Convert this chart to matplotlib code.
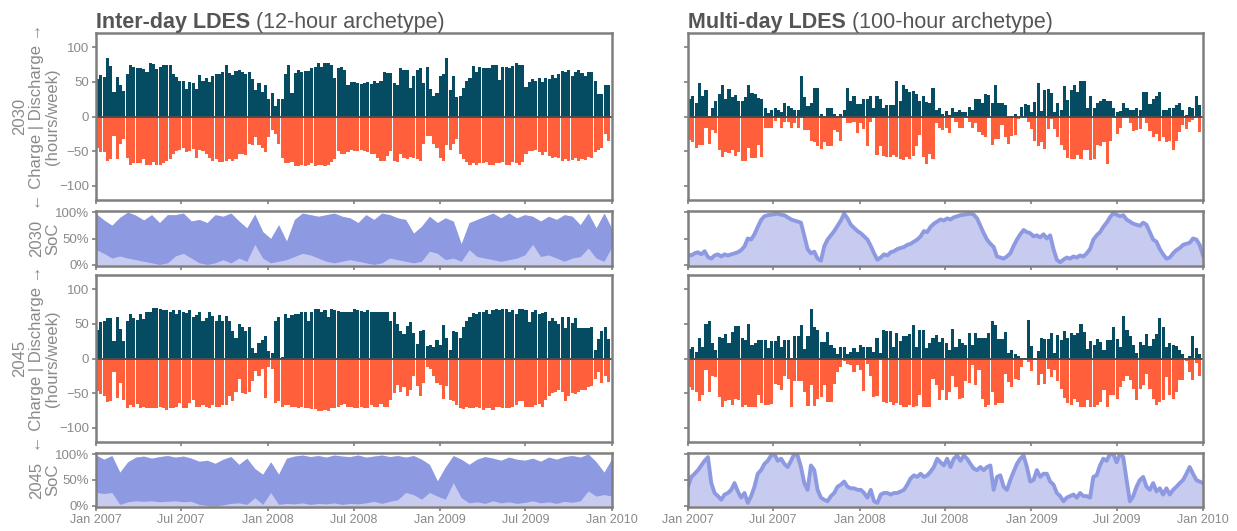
import matplotlib.pyplot as plt
import pandas as pd

plt.rcParams['font.family'] = ['Liberation Sans', 'DejaVu Sans']

# weekly hours (discharge +, charge -), Jan 2007 - Dec 2009
inter_2030_dis = [55, 60, 57, 85, 73, 35, 57, 46, 37, 61, 75, 72, 70,
                  70, 69, 64, 78, 76, 69, 72, 74, 75, 75, 62, 57, 52,
                  52, 40, 50, 48, 40, 60, 52, 56, 50, 58, 62, 62, 65,
                  75, 63, 60, 66, 68, 65, 61, 65, 55, 38, 48, 36, 46,
                  25, 34, 15, 25, 26, 62, 75, 34, 63, 68, 65, 66, 66,
                  70, 72, 77, 72, 78, 78, 75, 56, 70, 72, 67, 46, 50,
                  50, 49, 47, 49, 50, 47, 52, 48, 51, 64, 63, 63, 48,
                  45, 71, 67, 67, 42, 59, 67, 70, 48, 72, 40, 29, 34,
                  58, 62, 85, 38, 59, 28, 30, 42, 52, 56, 73, 65, 72,
                  70, 71, 70, 75, 75, 53, 72, 72, 71, 73, 78, 74, 74,
                  43, 50, 55, 52, 56, 50, 56, 54, 60, 56, 62, 66, 65,
                  67, 58, 65, 68, 63, 58, 65, 65, 52, 32, 32, 45, 45]
inter_2030_chg = [-45, -52, -52, -64, -62, -28, -62, -40, -33, -60, -70, -68, -68,
                  -67, -62, -70, -70, -66, -70, -70, -67, -65, -62, -55, -50, -48,
                  -45, -52, -50, -47, -60, -48, -50, -55, -60, -65, -62, -66, -66,
                  -65, -62, -65, -62, -55, -55, -56, -40, -42, -30, -42, -46, -52,
                  -30, -20, -25, -40, -60, -68, -68, -66, -72, -72, -70, -72, -70,
                  -68, -72, -70, -70, -72, -70, -66, -62, -50, -54, -55, -52, -48,
                  -50, -50, -48, -50, -52, -55, -55, -60, -65, -65, -57, -50, -65,
                  -66, -55, -60, -62, -58, -60, -62, -65, -40, -28, -28, -40, -45,
                  -60, -65, -42, -48, -40, -32, -55, -62, -66, -70, -68, -70, -68,
                  -68, -66, -70, -70, -68, -68, -66, -70, -70, -66, -68, -70, -66,
                  -55, -50, -50, -48, -52, -56, -52, -57, -60, -58, -60, -65, -62,
                  -64, -63, -60, -65, -62, -63, -58, -60, -52, -48, -45, -25, -36]
inter_2045_dis = [42, 53, 54, 58, 58, 26, 60, 43, 25, 55, 65, 58, 56,
                  64, 57, 67, 67, 73, 73, 72, 70, 70, 68, 71, 64, 70,
                  68, 66, 70, 60, 63, 68, 55, 58, 67, 62, 55, 63, 55,
                  62, 55, 40, 30, 50, 45, 40, 45, 15, 8, 22, 27, 33,
                  11, 8, 55, 60, 2, 64, 58, 63, 65, 65, 67, 68, 55,
                  68, 72, 72, 68, 70, 60, 72, 70, 69, 67, 67, 67, 67,
                  72, 70, 69, 68, 70, 67, 68, 67, 68, 67, 67, 55, 68,
                  50, 40, 35, 47, 53, 37, 21, 40, 42, 18, 20, 16, 27,
                  20, 49, 30, 12, 40, 38, 30, 45, 55, 60, 66, 65, 68,
                  67, 70, 64, 70, 72, 70, 72, 72, 68, 71, 65, 72, 72,
                  70, 53, 68, 71, 64, 66, 67, 55, 58, 54, 50, 60, 44,
                  60, 52, 58, 44, 44, 44, 44, 45, 12, 28, 40, 45, 28]
inter_2045_chg = [-47, -52, -55, -63, -62, -20, -57, -35, -60, -72, -68, -70, -66,
                  -72, -70, -72, -72, -72, -72, -70, -72, -75, -72, -72, -70, -65,
                  -72, -72, -65, -60, -70, -70, -68, -70, -72, -68, -70, -70, -68,
                  -68, -55, -62, -48, -30, -50, -52, -48, -33, -18, -25, -15, -57,
                  -12, -15, -65, -62, -70, -68, -68, -70, -70, -72, -70, -72, -72,
                  -73, -73, -76, -76, -74, -76, -72, -72, -70, -68, -66, -70, -70,
                  -72, -72, -70, -72, -72, -68, -70, -70, -66, -70, -70, -60, -50,
                  -38, -48, -42, -55, -46, -25, -40, -55, -35, -12, -15, -25, -35,
                  -38, -58, -40, -60, -62, -68, -72, -73, -70, -72, -72, -70, -72,
                  -74, -72, -72, -75, -70, -70, -72, -72, -72, -70, -68, -62, -62,
                  -70, -70, -70, -68, -66, -70, -60, -55, -50, -48, -45, -48, -62,
                  -55, -50, -52, -48, -45, -45, -42, -40, -30, -20, -35, -25, -34]
multi_2030_dis = [26, 29, 20, 49, 29, 39, 0, 13, 23, 32, 45, 26, 40, 28, 31, 23, 23, 28, 45, 34,
                  32, 27, 26, 13, 5, 9, 12, 10, 6, 20, 15, 13, 10, 10, 59, 28, 15, 20, 42, 42,
                  3, 0, 12, 12, 3, 1, 3, 9, 42, 22, 29, 18, 18, 26, 26, 29, 12, 30, 25, 12,
                  17, 17, 17, 52, 23, 45, 40, 35, 37, 33, 23, 30, 21, 20, 41, 9, 13, 4,
                  8, 2, 12, 6, 10, 7, 7, 14, 10, 26, 25, 19, 32, 31, 19, 45, 20, 20, 16, 0,
                  1, 3, 0, 14, 18, 16, 6, 21, 49, 8, 38, 40, 34, 7, 19, 10, 44, 24, 39, 45,
                  35, 52, 52, 12, 30, 12, 20, 22, 26, 23, 23, 13, 7, 8, 20, 13, 10, 10, 13, 10,
                  35, 36, 18, 26, 30, 35, 10, 10, 12, 12, 17, 20, 10, 2, 14, 12, 30, 17]
multi_2030_chg = [-34, -37, -46, -42, -42, -16, -40, -20, -24, -48, -59, -52, -53, -48, -57, -52, -64, -64, -46, -60,
                  -60, -42, -58, -16, -16, -16, -7, 0, -16, -8, -8, -16, -9, -16, 0, -20, -20, -35, -37, -43,
                  -47, -37, -43, -43, -20, -22, -35, -1, -9, -9, -8, -24, -9, -18, -43, -8, 0, -56, -43, -57,
                  -59, -58, -56, -59, -61, -63, -59, -62, -57, -43, -27, -58, -69, -54, -62, -9, -16, -20,
                  -16, -24, 0, -8, -16, -16, 0, -8, -16, -10, -23, -27, -30, 0, -41, -33, -33, -13, -30, -40,
                  -28, -27, -4, -1, 0, -8, -18, -36, -43, -37, -47, -18, -4, -18, -29, -41, -48, -60, -61, -61,
                  -56, -61, -48, -49, -63, -61, -41, -43, -37, -69, -35, 0, -25, -17, -1, 0, -9, -21, -20, -18,
                  -1, -10, -21, -30, -25, -35, -29, -37, -35, -48, -35, -22, -13, -18, -8, -5, 0, -23]
multi_2045_dis = [14, 16, 10, 30, 17, 50, 55, 23, 12, 31, 30, 36, 23, 38, 47, 47, 30, 27, 50, 20,
                  22, 27, 27, 27, 15, 26, 26, 33, 16, 27, 27, 1, 32, 32, 49, 14, 32, 72, 45, 42,
                  24, 24, 38, 20, 15, 7, 17, 16, 7, 10, 15, 9, 19, 17, 17, 17, 9, 29, 8, 42,
                  40, 40, 17, 37, 26, 33, 32, 36, 49, 17, 42, 42, 15, 22, 30, 34, 24, 30,
                  22, 13, 43, 16, 28, 23, 20, 37, 20, 37, 29, 29, 29, 37, 55, 49, 28, 28, 38, 8,
                  12, 7, 3, 1, 1, 56, 18, 1, 11, 29, 28, 28, 37, 8, 34, 27, 40, 30, 37, 34,
                  37, 50, 39, 14, 25, 20, 28, 24, 13, 27, 27, 45, 28, 17, 62, 42, 33, 20, 8, 24,
                  20, 36, 18, 28, 36, 58, 46, 16, 22, 20, 18, 13, 7, 1, 4, 33, 15, 6]
multi_2045_chg = [-42, -46, -49, -62, -53, -16, -48, -26, -27, -56, -70, -61, -60, -67, -58, -60, -70, -68, -70, -70,
                  -70, -53, -65, -67, -67, -66, -37, -39, -46, -26, -29, -70, -32, -32, -32, -49, -69, -39, -69, -59,
                  -56, -38, -63, -63, -37, -20, -12, -4, -8, -10, -20, -10, -16, -47, -8, -25, -56, -54, -1, -63,
                  -65, -63, -67, -65, -67, -70, -70, -68, -70, -69, -53, -70, -70, -70, -30, -39, -60, -45,
                  -60, -48, -25, -41, -58, -57, -33, -36, -10, -39, -16, -58, -70, -67, -48, -68, -64, -64, -23, -34,
                  -41, -29, -31, -13, -1, -5, -18, 0, -38, -23, -37, -15, -27, -16, -32, -44, -57, -65, -67, -58,
                  -63, -70, -70, -60, -70, -70, -67, -63, -46, -70, -53, -53, -58, -42, -32, -26, -31, -44, -60, -44,
                  -39, -23, -44, -58, -67, -63, -60, -27, -53, -58, -49, -31, -31, -4, -19, -31, -6, -25]

# state of charge (%), inter-day: daily swing envelope (low / high)
inter_2030_soc_hi = [97, 85, 75, 90, 100, 94, 85, 95, 80, 95, 95, 98, 83, 86, 80, 95, 92, 98, 83, 70, 96, 63,
                     50, 76, 45, 86, 98, 95, 92, 95, 98, 92, 89, 80, 95, 86, 98, 95, 89, 86, 60, 73, 92, 80,
                     89, 83, 40, 80, 86, 92, 98, 89, 98, 89, 95, 92, 83, 92, 86, 95, 92, 76, 98, 70, 98, 68]
inter_2030_soc_lo = [29, 22, 13, 17, 13, 10, 7, 4, 1, 4, 17, 22, 13, 4, 1, 4, 10, 4, 13, 7, 39, 13,
                     4, 7, 10, 16, 22, 19, 13, 7, 4, 7, 10, 7, 4, 1, 4, 13, 10, 7, 4, 7, 26, 22,
                     10, 13, 7, 29, 16, 13, 10, 7, 10, 13, 19, 39, 16, 19, 13, 7, 13, 16, 32, 13, 7, 35]
inter_2045_soc_hi = [98, 90, 97, 65, 85, 94, 96, 92, 95, 97, 94, 96, 92, 86, 88, 82, 90, 95, 80, 92, 72, 61,
                     85, 61, 92, 96, 98, 95, 97, 94, 98, 96, 95, 98, 94, 96, 98, 95, 97, 94, 97, 90, 80, 48,
                     75, 97, 90, 80, 90, 95, 92, 88, 94, 90, 88, 92, 86, 94, 90, 95, 97, 94, 100, 85, 65, 92]
inter_2045_soc_lo = [26, 24, 26, 3, 8, 10, 9, 10, 8, 9, 10, 8, 9, 3, 1, 0, 2, 5, 6, 3, 16, 3,
                     26, 3, 5, 4, 6, 3, 5, 4, 6, 3, 5, 4, 6, 9, 5, 9, 12, 26, 22, 13, 26, 19,
                     13, 45, 16, 6, 8, 5, 10, 6, 8, 5, 7, 10, 6, 8, 5, 9, 7, 10, 29, 19, 22, 19]
# state of charge (%), multi-day
multi_2030_soc = [20, 18, 22, 24, 20, 26, 15, 12, 18, 20, 16, 20, 18, 20, 22, 24, 28, 35, 50, 48,
                  58, 72, 85, 92, 94, 95, 96, 97, 95, 94, 90, 86, 84, 82, 80, 55, 30, 22, 25, 12,
                  8, 35, 48, 56, 64, 74, 84, 97, 88, 76, 70, 64, 60, 54, 48, 36, 22, 10, 14, 20,
                  18, 24, 26, 30, 32, 34, 38, 40, 44, 48, 54, 64, 62, 72, 78, 82, 86, 84, 88, 86,
                  90, 92, 94, 95, 96, 97, 95, 88, 74, 60, 48, 40, 34, 16, 14, 12, 16, 22, 36, 48,
                  58, 66, 62, 60, 54, 56, 52, 58, 50, 56, 30, 10, 5, 10, 14, 12, 16, 14, 18, 16,
                  22, 30, 48, 56, 62, 72, 80, 90, 98, 95, 92, 94, 86, 82, 78, 76, 74, 80, 76, 62,
                  48, 44, 30, 20, 12, 14, 22, 28, 32, 38, 40, 42, 50, 48, 38, 18]
multi_2045_soc = [37, 56, 62, 69, 78, 87, 94, 44, 25, 19, 12, 22, 25, 31, 44, 28, 16, 25, 6, 19,
                  37, 62, 69, 81, 87, 97, 100, 87, 91, 81, 75, 87, 100, 97, 75, 44, 31, 78, 69, 31,
                  16, 12, 9, 19, 25, 37, 41, 47, 37, 34, 34, 31, 31, 25, 16, 31, 9, 6, 22, 25,
                  25, 22, 25, 25, 28, 31, 41, 53, 59, 56, 62, 56, 59, 66, 75, 91, 84, 78, 91, 75,
                  91, 97, 87, 97, 91, 81, 72, 69, 75, 69, 75, 78, 31, 56, 59, 37, 31, 50, 66, 81,
                  91, 97, 75, 47, 50, 69, 56, 62, 62, 47, 41, 25, 19, 9, 16, 19, 22, 16, 25, 19,
                  19, 16, 56, 59, 78, 91, 87, 100, 100, 84, 100, 94, 50, 9, 19, 37, 50, 56, 37, 31,
                  44, 28, 34, 22, 34, 22, 31, 37, 44, 50, 62, 75, 62, 50, 47, 44]

tick_dates = pd.date_range("2007-01-01", "2010-01-01", freq="6MS")
tick_labels = [d.strftime("%b %Y") for d in tick_dates]
start, end = pd.Timestamp("2007-01-01"), pd.Timestamp("2010-01-01")

dis_col = "#054b62"
chg_col = "#ff5f3b"
soc_fill = "#c6cbef"
soc_line = "#8d99e0"
grey = "#7f7f7f"
lab_col = "#8a8a8a"

W, H = 1237, 531
fig = plt.figure(figsize=(W / 100, H / 100), dpi=100)

def box(x0, x1, y0, y1):
    return [x0 / W, 1 - y1 / H, (x1 - x0) / W, (y1 - y0) / H]

cols = [(96, 612), (688, 1203)]
rows = [(33, 200), (211, 266), (275, 442), (453, 507)]

def style(ax, bottom_labels, show_y):
    ax.set_xlim(start, end)
    ax.set_xticks(tick_dates)
    ax.set_xticklabels(tick_labels if bottom_labels else [])
    for s in ax.spines.values():
        s.set_color(grey)
        s.set_linewidth(1.8)
    ax.tick_params(colors=grey, labelcolor=lab_col, labelsize=9.5, length=3, width=1.2, pad=2)
    ax.tick_params(axis="x", labelsize=9)
    if not show_y:
        ax.set_yticklabels([])

def bars(ax, dis, chg, show_y):
    d1 = pd.date_range("2007-01-01", periods=len(dis), freq="7D")
    d2 = pd.date_range("2007-01-01", periods=len(chg), freq="7D")
    ax.bar(d1, dis, width=6.6, align="edge", color=dis_col, linewidth=0)
    ax.bar(d2, chg, width=6.6, align="edge", color=chg_col, linewidth=0)
    ax.axhline(0, color="#4d4d4d", lw=1.4)
    ax.set_ylim(-121, 121)
    ax.set_yticks([-100, -50, 0, 50, 100])
    style(ax, False, show_y)

def soc_band(ax, lo, hi, last):
    d = pd.date_range(start, end, periods=len(hi))
    ax.fill_between(d, 0, hi, color=soc_fill, lw=0)
    ax.fill_between(d, lo, hi, color=soc_line, lw=0)
    ax.set_ylim(-2, 102)
    ax.set_yticks([0, 50, 100])
    ax.set_yticklabels(["0%", "50%", "100%"])
    style(ax, last, True)

def soc_line_plot(ax, soc, last):
    d = pd.date_range(start, end, periods=len(soc))
    ax.fill_between(d, 0, soc, color=soc_fill, lw=0)
    ax.plot(d, soc, color=soc_line, lw=2.8)
    ax.set_ylim(-2, 102)
    ax.set_yticks([0, 50, 100])
    style(ax, last, False)

a = fig.add_axes(box(*cols[0], *rows[0])); bars(a, inter_2030_dis, inter_2030_chg, True)
a = fig.add_axes(box(*cols[0], *rows[1])); soc_band(a, inter_2030_soc_lo, inter_2030_soc_hi, False)
a = fig.add_axes(box(*cols[0], *rows[2])); bars(a, inter_2045_dis, inter_2045_chg, True)
a = fig.add_axes(box(*cols[0], *rows[3])); soc_band(a, inter_2045_soc_lo, inter_2045_soc_hi, True)
a = fig.add_axes(box(*cols[1], *rows[0])); bars(a, multi_2030_dis, multi_2030_chg, False)
a = fig.add_axes(box(*cols[1], *rows[1])); soc_line_plot(a, multi_2030_soc, False)
a = fig.add_axes(box(*cols[1], *rows[2])); bars(a, multi_2045_dis, multi_2045_chg, False)
a = fig.add_axes(box(*cols[1], *rows[3])); soc_line_plot(a, multi_2045_soc, True)

# row titles on the left
for (y0, y1), txt in zip(rows, ["2030\n\u2190 Charge | Discharge \u2192\n(hours/week)", "2030\nSoC",
                                "2045\n\u2190 Charge | Discharge \u2192\n(hours/week)", "2045\nSoC"]):
    fig.text(60 / W, 1 - (y0 + y1) / 2 / H, txt, rotation=90, ha="right", va="center",
             multialignment="center", fontsize=12, color=lab_col, linespacing=1.1)

# column titles: bold name + plain archetype
renderer = fig.canvas.get_renderer()
for x0, name, rest in [(96, "Inter-day LDES", " (12-hour archetype)"),
                       (688, "Multi-day LDES", " (100-hour archetype)")]:
    t = fig.text(x0 / W, 1 - 28 / H, name, fontsize=15.5, fontweight="bold", color="#555555")
    bb = t.get_window_extent(renderer)
    fig.text(bb.x1 / W, 1 - 28 / H, rest, fontsize=15.5, color="#555555")

fig.savefig("out.png", dpi=100)
